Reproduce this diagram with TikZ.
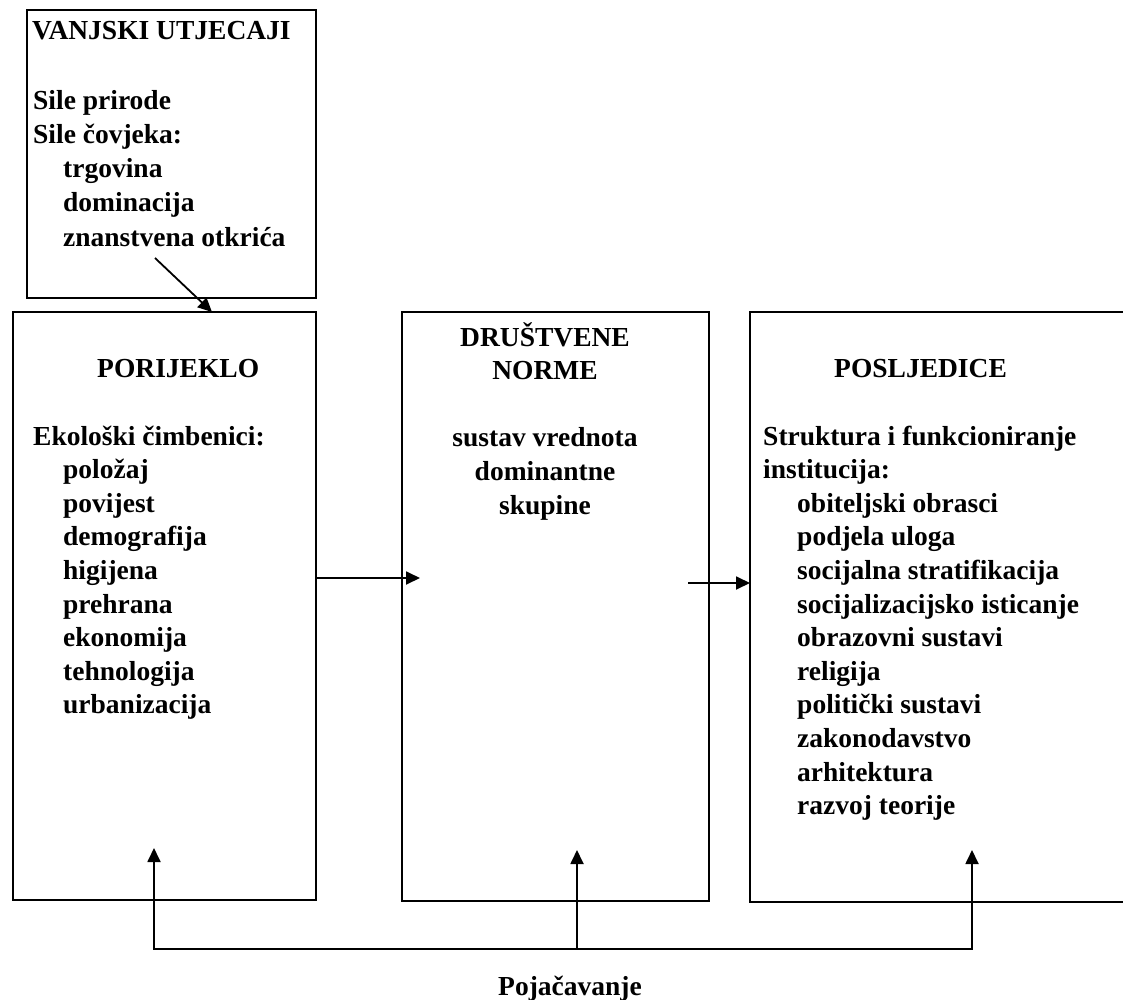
\documentclass[tikz,border=0pt]{standalone}
\usepackage{fontspec}
\setmainfont{Liberation Serif}
\usetikzlibrary{arrows.meta,calc}
\begin{document}
\begin{tikzpicture}[x=1pt,y=-1pt,
  box/.style={draw,line width=1.8pt,inner sep=0pt,outer sep=0pt,anchor=north west},
  txt/.style={anchor=base west,inner sep=0pt,font=\fontsize{27.5}{33}\selectfont\bfseries},
  txtc/.style={txt,anchor=base},
  arr/.style={line width=1.8pt,-{Triangle[length=14pt,width=13pt]}},
  plain/.style={line width=1.8pt}]
\useasboundingbox (0,0) rectangle (1123,1000);
\clip (0,0) rectangle (1123,1000);
% boxes
\node[box,minimum width=289pt,minimum height=288pt] (ext) at (27,10) {};
\node[box,minimum width=303pt,minimum height=588pt] (orig) at (13,312) {};
\node[box,minimum width=307pt,minimum height=589pt] (norms) at (402,312) {};
\node[box,minimum width=420pt,minimum height=590pt] (cons) at (750,312) {};
% external influences
\node[txt] (e0) at (32,40) {VANJSKI UTJECAJI};
\node[txt] (e1) at (33,110) {Sile prirode};
\node[txt] (e2) at (33,144) {Sile čovjeka:};
\node[txt] (e3) at (63,178) {trgovina};
\node[txt] (e4) at (63,212) {dominacija};
\node[txt] (e5) at (63,246) {znanstvena otkrića};
% origin
\node[txt] (o0) at (97,377) {PORIJEKLO};
\node[txt] (o1) at (33,445) {Ekološki čimbenici:};
\foreach \w [count=\i] in {položaj,povijest,demografija,higijena,prehrana,ekonomija,tehnologija,urbanizacija}
  \node[txt] (o1\i) at (63,{445+33.6*\i}) {\w};
% norms
\node[txtc] (n0) at (545,346) {DRUŠTVENE};
\node[txtc] (n1) at (545,379.6) {NORME};
\node[txtc] (n2) at (545,446.8) {sustav vrednota};
\node[txtc] (n3) at (545,480.4) {dominantne};
\node[txtc] (n4) at (545,514) {skupine};
% consequences
\node[txt] (c0) at (834,377) {POSLJEDICE};
\node[txt] (c1) at (763,445) {Struktura i funkcioniranje};
\node[txt] (c2) at (763,478.6) {institucija:};
\foreach \w [count=\i] in {obiteljski obrasci,podjela uloga,socijalna stratifikacija,socijalizacijsko isticanje,obrazovni sustavi,religija,politički sustavi,zakonodavstvo,arhitektura,razvoj teorije}
  \node[txt] (c2\i) at (763+34,{478.6+33.6*\i}) {\w};
% label
\node[txtc] (lab) at (570,995) {Pojačavanje};
% connectors
\coordinate (s0) at (155,258);
\draw[arr] (s0) -- (orig.north -| 212,0);
\draw[arr] (orig.east |- 0,578) -- ($(norms.west |- 0,578)+(18,0)$);
\draw[arr] ($(norms.east |- 0,583)+(-21,0)$) -- (cons.west |- 0,583);
\coordinate (f1) at (154,949);
\coordinate (f2) at (577,949);
\coordinate (f3) at (972,949);
\draw[plain,line cap=rect] (f1) -- (f3);
\draw[arr] (f1) -- ($(orig.south -| f1)+(0,-52)$);
\draw[arr] (f2) -- ($(norms.south -| f2)+(0,-51)$);
\draw[arr] (f3) -- ($(cons.south -| f3)+(0,-52)$);
\end{tikzpicture}
\end{document}
